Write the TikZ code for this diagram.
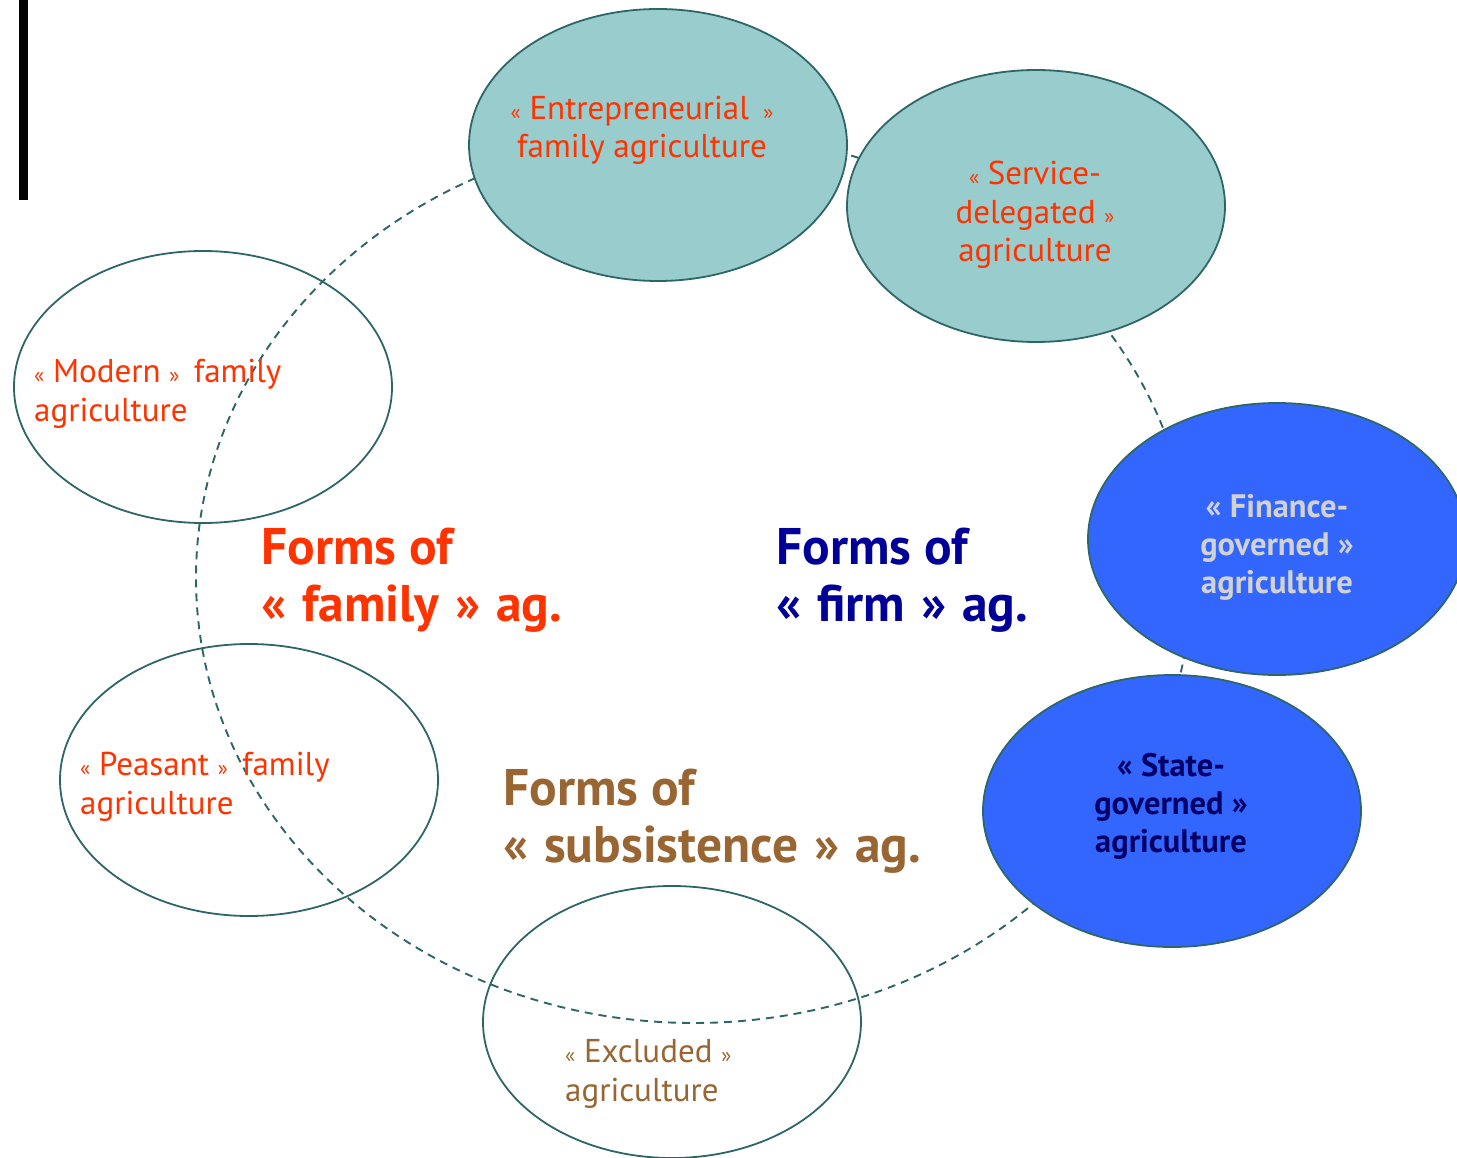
\documentclass[tikz,border=0pt]{standalone}
\usepackage{fontspec}
\setmainfont{PT Sans}
\usetikzlibrary{shapes.geometric}
\definecolor{tealfill}{HTML}{99CCCC}
\definecolor{edgec}{HTML}{2E6666}
\definecolor{blu}{HTML}{3366FF}
\definecolor{redt}{HTML}{FF3300}
\definecolor{navyb}{HTML}{000099}
\definecolor{navyd}{HTML}{000066}
\definecolor{greyt}{HTML}{D2D2D2}
\definecolor{brownt}{HTML}{996633}
\newcommand{\gqL}{{\fontsize{21}{21}\selectfont«}}
\newcommand{\gqR}{{\fontsize{21}{21}\selectfont»}}
\newcommand{\wsp}{\hspace{0.31em}}
\begin{document}
\begin{tikzpicture}[x=1pt,y=-1pt,
  oval/.style={ellipse, draw=edgec, line width=1.8pt, minimum width=378pt, minimum height=272pt, inner sep=0pt},
  tealoval/.style={oval, fill=tealfill},
  blueoval/.style={oval, fill=blu},
  smalltxt/.style={font=\fontsize{33}{38.5}\selectfont, inner sep=0pt},
  boldtxt/.style={font=\fontsize{32.5}{38}\selectfont\bfseries, inner sep=0pt},
  bigtxt/.style={font=\fontsize{51.5}{57}\selectfont\bfseries, inner sep=0pt, align=left, anchor=base west},
  ring/.style={draw=edgec, line width=1.9pt, dash pattern=on 8pt off 6pt}]
\useasboundingbox (0,0) rectangle (1457,1158);
\fill[black] (19,0) rectangle (28,200);
% dashed ring
\draw[ring] (694,578) ellipse [x radius=498pt, y radius=445pt];
% filled ovals
\node[tealoval] (ent) at (658,145) {};
\node[tealoval] (serv) at (1036,206) {};
\node[blueoval] (fin) at (1277,539) {};
\node[blueoval] (state) at (1172,811) {};
% open ovals
\node[oval] (modern) at (203,387) {};
\node[oval] (peasant) at (249,780) {};
\node[oval] (excl) at (672,1022) {};
% oval texts (anchor at baseline of last line)
\node[smalltxt, text=redt, align=center, anchor=base] (tent) at (642,158) {\gqL\ Entrepreneurial\, \gqR\\family agriculture};
\node[smalltxt, text=redt, align=center, anchor=base] (tserv) at (1035,262) {\gqL\ Service-\\delegated \gqR\\agriculture};
\node[boldtxt, text=greyt, align=center, anchor=base] (tfin) at (1277,593) {« Finance-\\governed »\\agriculture};
\node[boldtxt, text=navyd, align=center, anchor=base] (tstate) at (1171,852) {« State-\\governed »\\agriculture};
\node[smalltxt, text=brownt, align=left, anchor=base west] (texcl) at (565,1101) {\gqL\ Excluded \gqR\\agriculture};
\node[smalltxt, text=redt, align=left, anchor=base west] (tmodern) at (34,421) {\gqL\ Modern \gqR\ \,family\\agriculture};
\node[smalltxt, text=redt, align=left, anchor=base west] (tpeasant) at (80,814) {\gqL\ Peasant \gqR\ \,family\\agriculture};
% big labels
\node[bigtxt, text=redt] (lfamily) at (261,621) {Forms of\\«\wsp family\wsp »\wsp ag.};
\node[bigtxt, text=navyb] (lfirm) at (776,621) {Forms of\\«\wsp firm\wsp »\wsp ag.};
\node[bigtxt, text=brownt] (lsubs) at (503,862) {Forms of\\«\wsp subsistence\wsp »\wsp ag.};
\end{tikzpicture}
\end{document}
